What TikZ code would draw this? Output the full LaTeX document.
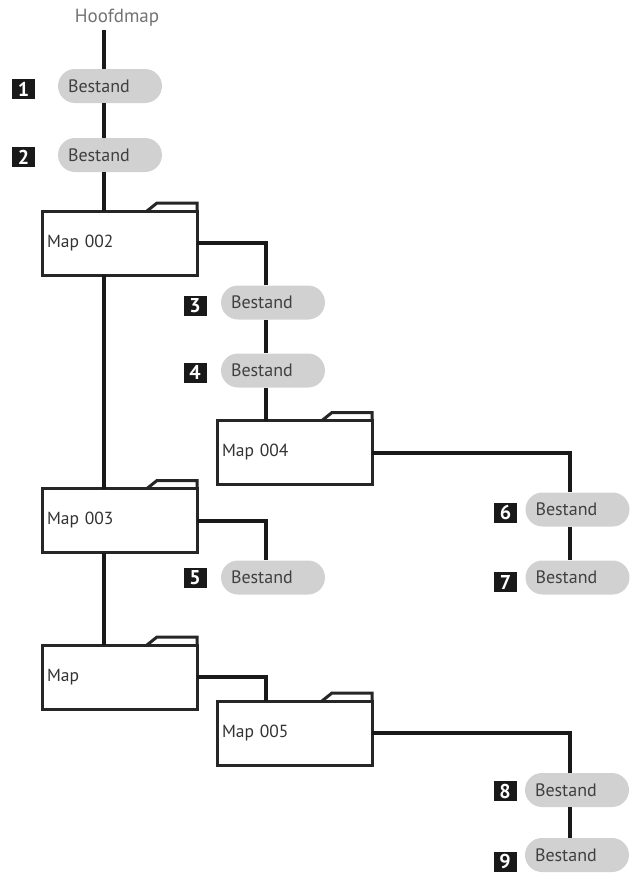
\documentclass[tikz,border=0pt]{standalone}
\usepackage{fontspec}
\setmainfont{PT Sans}
\begin{document}
\begin{tikzpicture}[x=1pt, y=-1pt,
    file/.style={rounded corners=17pt, fill=black!18, minimum width=104pt, minimum height=34pt,
        text width=84pt, inner xsep=10pt, align=left, text=black!75, font=\fontsize{18}{18}\selectfont},
    folder/.style={draw=black!85, line width=3pt, fill=white, outer sep=0pt, minimum height=64pt,
        text width=145pt, inner xsep=5pt, align=left, text=black!80, font=\fontsize{17.5}{17.5}\selectfont},
    tab/.style={draw=black!85, line width=3pt},
    num/.style={fill=black!90, text=white, inner sep=0pt, minimum width=23pt, minimum height=20pt,
        font=\bfseries\fontsize{20}{20}\selectfont},
    link/.style={line width=4pt, black!90}]
    \useasboundingbox (0,0) rectangle (637,878);

    % kolommen van de lijnen
    \coordinate (t1) at (104,0);
    \coordinate (t2) at (266,0);
    \coordinate (t3) at (570,0);

    \node[text=black!55, font=\fontsize{19}{19}\selectfont] (hoofd) at (117,18) {Hoofdmap};

    % mappen
    \node[folder] (m2) at (119.5,243) {Map 002};
    \node[folder] (m3) at (119.5,520.5) {Map 003};
    \node[folder] (m4) at (294.5,452.5) {Map 004};
    \node[folder] (m6) at (119.5,677) {Map};
    \node[folder] (m5) at (294.5,733) {Map 005};
    \foreach \f in {m2,m3,m4,m6,m5}
        \draw[tab] (\f.north east) -- ++(0,-8) -- ++(-40,0) -- ++(-10,8);

    % bestanden
    \node[file] (p1) at (110,86) {Bestand};
    \node[file] (p2) at (110,155) {Bestand};
    \node[file] (p3) at (273,302.5) {Bestand};
    \node[file] (p4) at (273,370.5) {Bestand};
    \node[file] (p5) at (273,577.5) {Bestand};
    \node[file] (p6) at (577.5,509.5) {Bestand};
    \node[file] (p7) at (577.5,577.5) {Bestand};
    \node[file] (p8) at (577,790) {Bestand};
    \node[file] (p9) at (577,855) {Bestand};

    % nummers
    \node[num] (n1) at (23.5,89) {1};
    \node[num] (n2) at (23.5,157) {2};
    \node[num] (n3) at (195,306) {3};
    \node[num] (n4) at (195,372.5) {4};
    \node[num] (n5) at (195,578) {5};
    \node[num] (n6) at (505.5,512.5) {6};
    \node[num] (n7) at (505.5,582) {7};
    \node[num] (n8) at (505,791) {8};
    \node[num] (n9) at (505,861.5) {9};

    % lijnen
    \draw[link] (t1 |- hoofd.south) -- (t1 |- p1.north);
    \draw[link] (t1 |- p1.south) -- (t1 |- p2.north);
    \draw[link] (t1 |- p2.south) -- (t1 |- m2.north);
    \draw[link] (t1 |- m2.south) -- (t1 |- m3.north);
    \draw[link] (t1 |- m3.south) -- (t1 |- m6.north);
    \draw[link] (m2.east) -| (t2 |- p3.north);
    \draw[link] (t2 |- p3.south) -- (t2 |- p4.north);
    \draw[link] (t2 |- p4.south) -- (t2 |- m4.north);
    \draw[link] (m3.east) -| (t2 |- p5.north);
    \draw[link] (m6.east) -| (t2 |- m5.north);
    \draw[link] (m4.east) -| (t3 |- p6.north);
    \draw[link] (t3 |- p6.south) -- (t3 |- p7.north);
    \draw[link] (m5.east) -| (t3 |- p8.north);
    \draw[link] (t3 |- p8.south) -- (t3 |- p9.north);
\end{tikzpicture}
\end{document}
